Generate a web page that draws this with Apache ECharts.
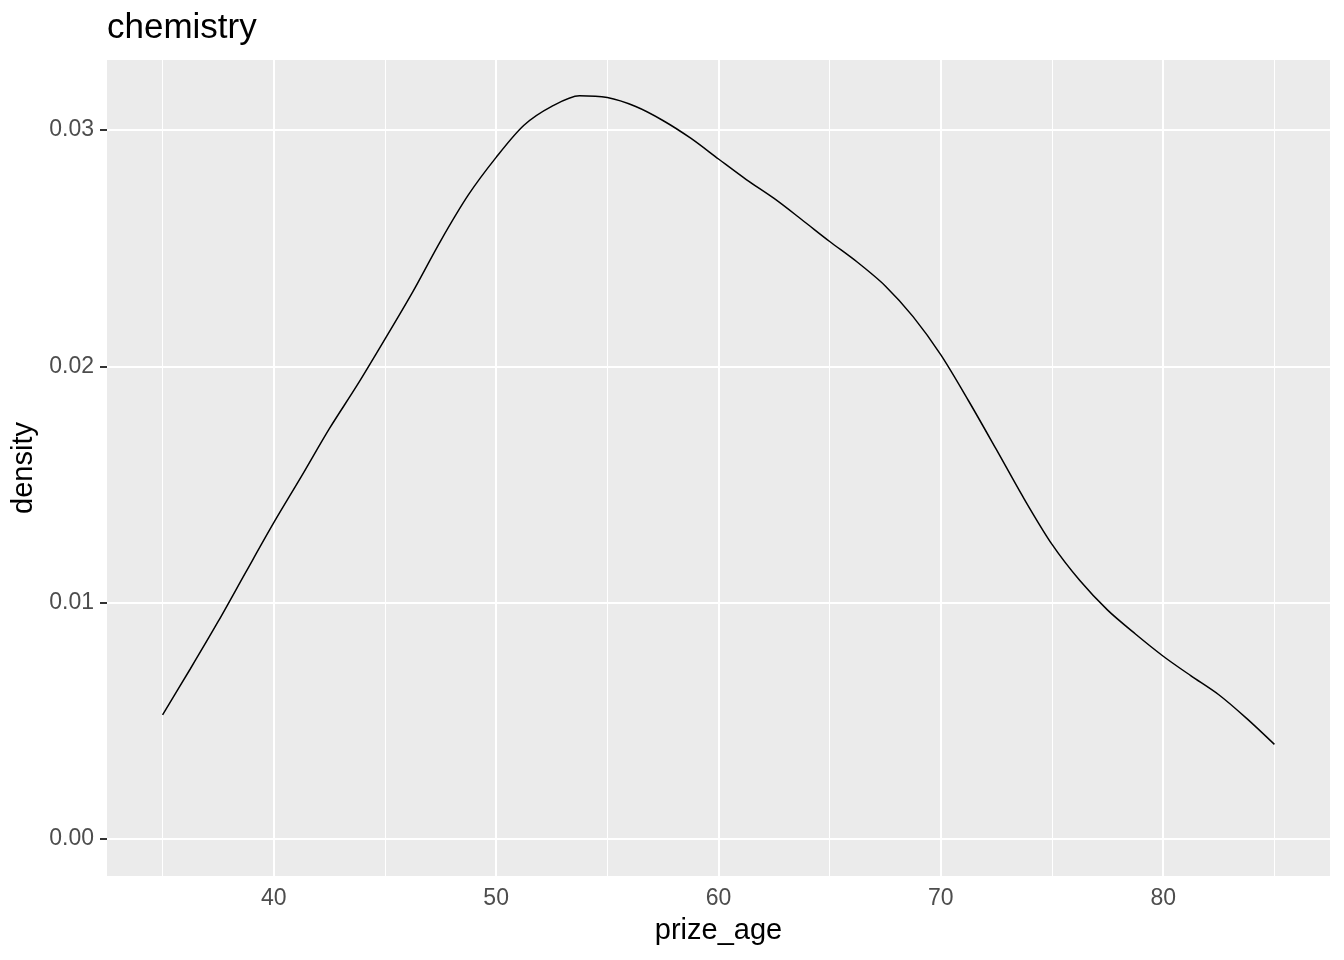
<!DOCTYPE html>
<html>
<head>
<meta charset="utf-8">
<script src="https://cdn.jsdelivr.net/npm/echarts@6/dist/echarts.min.js"></script>
<style>html,body{margin:0;padding:0;background:#fff}#c{width:1344px;height:960px}</style>
</head>
<body>
<div id="c"></div>
<script>
const ages = [35,36.25,37.5,38.75,40,41.25,42.5,43.75,45,46.25,47.5,48.75,50,51.25,52.5,53.75,55,56.25,57.5,58.75,60,61.25,62.5,63.75,65,66.25,67.5,68.75,70,71.25,72.5,73.75,75,76.25,77.5,78.75,80,81.25,82.5,83.75,85];
const density = [0.00525,0.0072,0.0092,0.0113,0.01338,0.01535,0.01736,0.0192,0.02115,0.02315,0.0253,0.02725,0.02884,0.0302,0.0310,0.03145,0.03137,0.0310,0.0304,0.02965,0.02877,0.0279,0.0271,0.0262,0.02528,0.0244,0.0234,0.0221,0.02048,0.01853,0.01647,0.01438,0.01246,0.01093,0.00968,0.00867,0.00773,0.0069,0.0061,0.0051,0.0040];
const xMajor = [40,50,60,70,80];
const xMinor = [35,45,55,65,75,85];
const yMajor = [0,0.01,0.02,0.03];
const yMinor = [0.005,0.015,0.025];

const chart = echarts.init(document.getElementById('c'));
const gridLines = [];
xMinor.forEach(v => gridLines.push({xAxis: v, lineStyle: {width: 1}}));
yMinor.forEach(v => gridLines.push({yAxis: v, lineStyle: {width: 1}}));
xMajor.forEach(v => gridLines.push({xAxis: v, lineStyle: {width: 2}}));
yMajor.forEach(v => gridLines.push({yAxis: v, lineStyle: {width: 2}}));

chart.setOption({
  animation: false,
  title: {text: 'chemistry', left: 102, top: 6, textStyle: {fontFamily: 'Liberation Sans', fontSize: 35, fontWeight: 'normal', color: '#000'}},
  grid: {left: 107, right: 14, top: 60, bottom: 84, show: true, backgroundColor: '#EBEBEB', borderWidth: 0, containLabel: false, outerBoundsMode: 'none'},
  xAxis: {
    type: 'value', min: 32.5, max: 87.5,
    name: 'prize_age', nameLocation: 'middle', nameGap: 40,
    nameTextStyle: {fontFamily: 'Liberation Sans', fontSize: 29, color: '#000'},
    axisLine: {show: false},
    axisTick: {show: true, length: 7, customValues: xMajor, lineStyle: {color: '#333', width: 2}},
    axisLabel: {customValues: xMajor, margin: 11, fontFamily: 'Liberation Sans', fontSize: 23, color: '#4D4D4D'},
    splitLine: {show: false}
  },
  yAxis: {
    type: 'value', min: -0.00157, max: 0.03296,
    name: 'density', nameLocation: 'middle', nameGap: 65, nameRotate: 90,
    nameTextStyle: {fontFamily: 'Liberation Sans', fontSize: 29, color: '#000'},
    axisLine: {show: false},
    axisTick: {show: true, length: 7, customValues: yMajor, lineStyle: {color: '#333', width: 2}},
    axisLabel: {customValues: yMajor, margin: 13, fontFamily: 'Liberation Sans', fontSize: 23, color: '#4D4D4D', formatter: v => v.toFixed(2)},
    splitLine: {show: false}
  },
  series: [
    {
      type: 'line', data: [], z: 1, silent: true,
      markLine: {silent: true, symbol: 'none', label: {show: false}, animation: false,
        lineStyle: {color: '#FFFFFF', type: 'solid'}, data: gridLines}
    },
    {
      type: 'line', z: 5, smooth: 0.3, showSymbol: false,
      data: ages.map((a, i) => [a, density[i]]),
      lineStyle: {color: '#000', width: 1.5}
    }
  ]
});
</script>
</body>
</html>
